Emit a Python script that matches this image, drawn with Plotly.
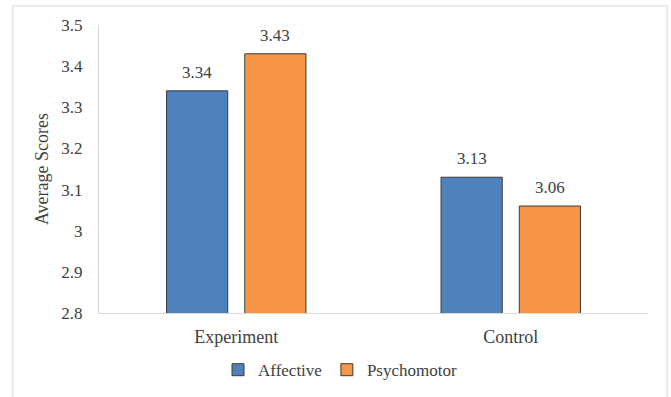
import plotly.graph_objects as go

categories = ["Experiment", "Control"]
affective = [3.34, 3.13]
psychomotor = [3.43, 3.06]
tick_vals = [2.8, 2.9, 3.0, 3.1, 3.2, 3.3, 3.4, 3.5]
tick_text = ["2.8", "2.9", "3", "3.1", "3.2", "3.3", "3.4", "3.5"]

FONT = "Liberation Serif, DejaVu Serif, serif"
TXT = "#404040"
fig = go.Figure()
fig.add_trace(go.Bar(name="Affective", x=categories, y=affective,
                     marker=dict(color="#4F81BD", line=dict(color="#3a3a3a", width=1))))
fig.add_trace(go.Bar(name="Psychomotor", x=categories, y=psychomotor,
                     marker=dict(color="#F79646", line=dict(color="#3a3a3a", width=1))))

for vals, shift in ((affective, -39), (psychomotor, 39)):
    for c, v in zip(categories, vals):
        fig.add_annotation(x=c, y=v, text=f"{v:.2f}", showarrow=False, xshift=shift,
                           yanchor="bottom", yshift=7,
                           font=dict(family=FONT, size=17, color=TXT))

fig.add_shape(type="rect", xref="paper", yref="paper", x0=-0.157, x1=1.035, y0=-0.4, y1=1.066,
              line=dict(color="#D9D9D9", width=1), layer="below")

fig.update_layout(
    width=671, height=397,
    margin=dict(l=99, r=23, t=25, b=84, autoexpand=False),
    paper_bgcolor="white", plot_bgcolor="white",
    barmode="group", bargap=0.43, bargroupgap=0.218,
    font=dict(family=FONT, size=17, color=TXT),
    showlegend=True,
    legend=dict(orientation="h", x=0.439, xanchor="center",
                yref="container", y=0.113, yanchor="top",
                font=dict(family=FONT, size=17, color=TXT), itemwidth=30,
                traceorder="normal"),
    xaxis=dict(showline=True, linecolor="#D9D9D9", linewidth=1, ticks="",
               ticklabelstandoff=7, automargin=False,
               tickfont=dict(family=FONT, size=18, color=TXT)),
    yaxis=dict(range=[2.8, 3.5], tickvals=tick_vals, ticktext=tick_text,
               showgrid=False, showline=True, linecolor="#D9D9D9", linewidth=1,
               zeroline=False, ticks="", ticklabelstandoff=12, automargin=False,
               tickfont=dict(family=FONT, size=17, color=TXT),
               title=dict(text="Average Scores", standoff=8,
                          font=dict(family=FONT, size=18, color=TXT))),
)
fig.write_html("out.html")
